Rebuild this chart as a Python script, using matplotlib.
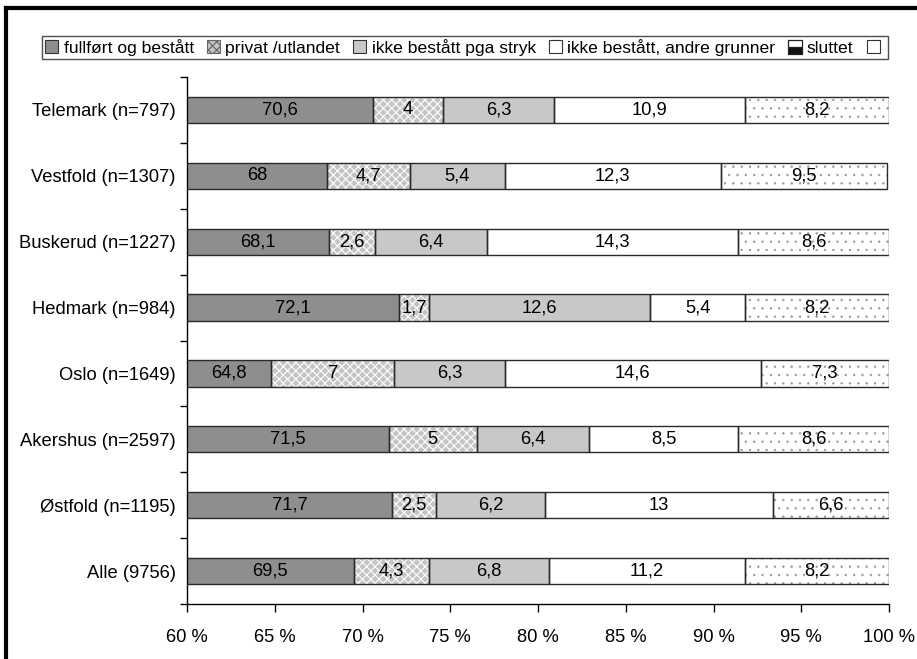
import matplotlib
matplotlib.use("Agg")
import matplotlib.pyplot as plt
from matplotlib.patches import Patch
from matplotlib.lines import Line2D
import numpy as np

plt.rcParams['font.family'] = ['Liberation Sans', 'DejaVu Sans']

categories = ["Telemark (n=797)", "Vestfold (n=1307)", "Buskerud (n=1227)",
              "Hedmark (n=984)", "Oslo (n=1649)", "Akershus (n=2597)",
              "Østfold (n=1195)", "Alle (9756)"]
series_names = ["fullført og bestått", "privat /utlandet", "ikke bestått pga stryk",
                "ikke bestått, andre grunner", "sluttet"]
fullfort = [70.6, 68, 68.1, 72.1, 64.8, 71.5, 71.7, 69.5]
privat = [4, 4.7, 2.6, 1.7, 7, 5, 2.5, 4.3]
stryk = [6.3, 5.4, 6.4, 12.6, 6.3, 6.4, 6.2, 6.8]
andre = [10.9, 12.3, 14.3, 5.4, 14.6, 8.5, 13, 11.2]
sluttet = [8.2, 9.5, 8.6, 8.2, 7.3, 8.6, 6.6, 8.2]
xticks = [60, 65, 70, 75, 80, 85, 90, 95, 100]

series = [fullfort, privat, stryk, andre, sluttet]
faces = ['#8e8e90', '#c4c4c4', '#c8c8c8', '#ffffff', '#ffffff']
hatches = [None, 'xxxx', None, None, '..']
hatch_cols = [None, '#ffffff', None, None, '#9a9a9a']
hatch_lws = [1.0, 0.8, 1.0, 1.0, 0.5]

FS = 13.2

fig = plt.figure(figsize=(9.17, 6.59), dpi=100)
ax = fig.add_axes([187/917, 1-604/659, (889-187)/917, (604-77)/659])

y = np.arange(len(categories))
left = np.zeros(len(categories))
h = 0.4
for vals, fc, ht, hc, hlw in zip(series, faces, hatches, hatch_cols, hatch_lws):
    vals = np.array(vals, dtype=float)
    plt.rcParams['hatch.linewidth'] = hlw
    if ht:
        ax.barh(y, vals, left=left, height=h, color=fc, hatch=ht, edgecolor=hc, linewidth=0, zorder=2)
    else:
        ax.barh(y, vals, left=left, height=h, color=fc, linewidth=0, zorder=2)
    ax.barh(y, vals, left=left, height=h, facecolor='none', edgecolor='#2a2a2a', linewidth=1.0, zorder=3)
    for yi, l, v in zip(y, left, vals):
        s = max(l, 60)
        e = l + v
        txt = ('%g' % v).replace('.', ',')
        ax.text((s + e) / 2, yi, txt, ha='center', va='center', fontsize=FS, zorder=4)
    left = left + vals

ax.set_xlim(60, 100)
ax.set_ylim(len(categories) - 0.5, -0.5)
ax.set_xticks(xticks)
ax.set_xticklabels(['%d %%' % t for t in xticks], fontsize=FS)
ax.set_yticks(np.arange(-0.5, len(categories), 1.0))
ax.set_yticklabels([])
ax.set_yticks(y, minor=True)
ax.set_yticklabels(categories, minor=True, fontsize=FS)
ax.tick_params(axis='y', which='minor', length=0, pad=8)
ax.tick_params(axis='y', which='major', length=5, direction='out', width=1)
ax.tick_params(axis='x', length=6, direction='out', width=1, pad=12)
for sp in ['top', 'right']:
    ax.spines[sp].set_visible(False)
for sp in ['left', 'bottom']:
    ax.spines[sp].set_linewidth(1.0)

plt.rcParams['hatch.linewidth'] = 0.8
handles = [
    Patch(facecolor=faces[0], edgecolor='#333333', linewidth=0.8),
    Patch(facecolor=faces[1], edgecolor='#666666', linewidth=0.8, hatch='xxxx'),
    Patch(facecolor=faces[2], edgecolor='#333333', linewidth=0.8),
    Patch(facecolor='white', edgecolor='#333333', linewidth=0.8),
    Line2D([], [], marker='s', linestyle='none', markersize=10, fillstyle='bottom',
           markerfacecolor='#111111', markerfacecoloralt='white', markeredgecolor='#222222', markeredgewidth=0.9),
    Patch(facecolor='white', edgecolor='#333333', linewidth=0.8),
]
labels = series_names + ['']
leg = fig.legend(handles, labels, loc='center', bbox_to_anchor=(465/917, 1-47.5/659), ncol=6,
                 fontsize=12.6, frameon=True, fancybox=False, handlelength=0.75, handleheight=0.75,
                 handletextpad=0.3, columnspacing=0.75, borderpad=0.2, borderaxespad=0)
leg.get_frame().set_edgecolor('#222222')
leg.get_frame().set_linewidth(1.0)

# outer frame
fig.add_artist(Line2D([6/917, 6/917], [0, 1-8/659], transform=fig.transFigure, color='black', linewidth=3))
fig.add_artist(Line2D([6/917, 1], [1-8/659, 1-8/659], transform=fig.transFigure, color='black', linewidth=3))

fig.savefig('out.png', dpi=100)
